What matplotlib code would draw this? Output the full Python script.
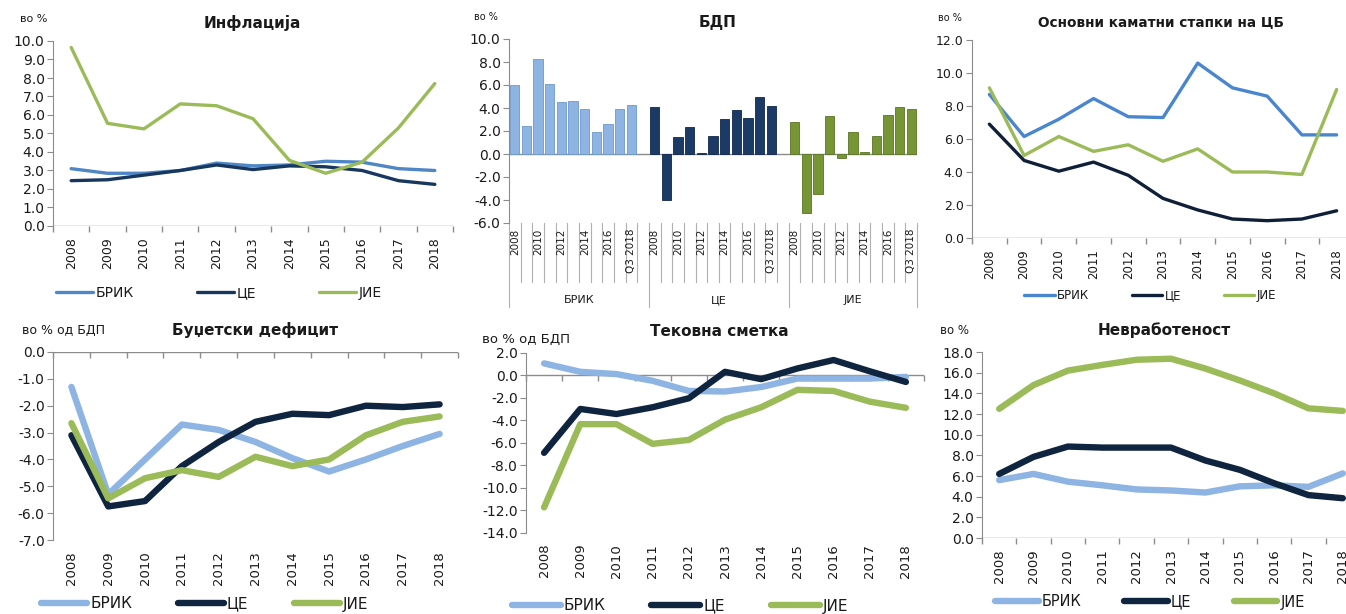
import numpy as np
import matplotlib
matplotlib.use('Agg')
import matplotlib.pyplot as plt

plt.rcParams['font.family'] = ['DejaVu Sans']

W, H = 1346, 614

years = [str(y) for y in range(2008, 2019)]
groups = ['БРИК', 'ЦЕ', 'ЈИЕ']

# Инфлација
infl_brik = [3.1, 2.85, 2.85, 3.0, 3.4, 3.25, 3.3, 3.5, 3.45, 3.1, 3.0]
infl_ce = [2.45, 2.5, 2.75, 3.0, 3.3, 3.05, 3.25, 3.2, 3.0, 2.45, 2.25]
infl_jie = [9.65, 5.55, 5.25, 6.6, 6.5, 5.8, 3.55, 2.85, 3.45, 5.3, 7.7]

# БДП
gdp_labels = ['2008', '', '2010', '', '2012', '', '2014', '', '2016', '', 'Q3 2018']
gdp_brik = [6.0, 2.4, 8.25, 6.05, 4.5, 4.65, 3.9, 1.95, 2.65, 3.9, 4.25]
gdp_ce = [4.05, -4.0, 1.45, 2.35, 0.1, 1.55, 3.05, 3.85, 3.15, 5.0, 4.2]
gdp_jie = [2.75, -5.15, -3.5, 3.3, -0.35, 1.9, 0.2, 1.55, 3.35, 4.05, 3.9]

# Основни каматни стапки
rate_brik = [8.7, 6.15, 7.2, 8.45, 7.35, 7.3, 10.6, 9.1, 8.6, 6.25, 6.25]
rate_ce = [6.9, 4.7, 4.05, 4.6, 3.8, 2.4, 1.7, 1.15, 1.05, 1.15, 1.65]
rate_jie = [9.1, 5.0, 6.15, 5.25, 5.65, 4.65, 5.4, 4.0, 4.0, 3.85, 9.0]

# Буџетски дефицит
bud_brik = [-1.3, -5.3, -4.0, -2.7, -2.9, -3.35, -3.95, -4.45, -4.0, -3.5, -3.05]
bud_ce = [-3.1, -5.75, -5.55, -4.25, -3.35, -2.6, -2.3, -2.35, -2.0, -2.05, -1.95]
bud_jie = [-2.65, -5.45, -4.7, -4.4, -4.65, -3.9, -4.25, -4.0, -3.1, -2.6, -2.4]

# Тековна сметка
ca_brik = [1.05, 0.3, 0.1, -0.5, -1.4, -1.45, -1.05, -0.3, -0.3, -0.3, -0.15]
ca_ce = [-6.9, -3.0, -3.45, -2.85, -2.05, 0.3, -0.35, 0.6, 1.35, 0.35, -0.6]
ca_jie = [-11.75, -4.35, -4.35, -6.1, -5.75, -3.95, -2.85, -1.3, -1.4, -2.35, -2.9]

# Невработеност
un_brik = [5.6, 6.2, 5.45, 5.1, 4.7, 4.6, 4.4, 5.0, 5.1, 4.95, 6.25]
un_ce = [6.2, 7.85, 8.85, 8.75, 8.75, 8.75, 7.5, 6.6, 5.3, 4.15, 3.85]
un_jie = [12.5, 14.8, 16.2, 16.75, 17.25, 17.35, 16.4, 15.25, 14.0, 12.55, 12.3]

GRAY = '#8c8c8c'
TXT = '#1a1a1a'

fig = plt.figure(figsize=(W / 100, H / 100), dpi=100)


def px_axes(l, r, t, b):
    return fig.add_axes([l / W, 1 - b / H, (r - l) / W, (b - t) / H])


def style_axes(ax, ylim, ystep, yfs):
    ax.set_ylim(*ylim)
    ax.set_yticks(np.arange(ylim[0], ylim[1] + ystep / 2, ystep))
    ax.yaxis.set_major_formatter(matplotlib.ticker.FormatStrFormatter('%.1f'))
    for s in ['top', 'right', 'bottom']:
        ax.spines[s].set_visible(False)
    ax.spines['left'].set_color(GRAY)
    ax.tick_params(axis='y', direction='out', length=4, color=GRAY,
                   labelsize=yfs, labelcolor=TXT, pad=2)
    ax.set_facecolor('none')


def line_panel(ax, series, colors, lw, ylim, ystep, yfs, xfs, base=0.0):
    n = len(years)
    x = np.arange(n)
    for vals, c, name in zip(series, colors, groups):
        ax.plot(x, vals, color=c, lw=lw, label=name,
                solid_capstyle='round', solid_joinstyle='round', zorder=3)
    ax.set_xlim(-0.5, n - 0.5)
    style_axes(ax, ylim, ystep, yfs)
    # category axis line and tick marks between categories
    ax.axhline(base, color=GRAY, lw=1.0, zorder=1)
    edges = np.arange(n + 1) - 0.5
    ax.plot(edges, [base] * len(edges), ls='none', marker=3, ms=4,
            mew=1.0, color=GRAY, clip_on=False, zorder=1)
    ax.set_xticks(x)
    ax.set_xticklabels(years, rotation=90, fontsize=xfs, color=TXT)
    ax.tick_params(axis='x', length=0, pad=8)


def panel_legend(ax, y, fs, hl, cs, x=0.5):
    leg = ax.legend(loc='center', bbox_to_anchor=(x, y), ncol=3, frameon=False,
                    fontsize=fs, handlelength=hl, handletextpad=0.2,
                    columnspacing=cs, borderaxespad=0)
    for t in leg.get_texts():
        t.set_color(TXT)


top_cols = ['#4f86c6', '#17375e', '#9bbb59']
bot_cols = ['#8db4e2', '#0f243e', '#9bbb59']

# --- Инфлација
ax1 = px_axes(53, 453, 41, 226)
line_panel(ax1, [infl_brik, infl_ce, infl_jie], top_cols, 2.4,
           (0, 10), 1, 10, 9)
panel_legend(ax1, (226 - 293) / 185, 10, 2.7, 4.5, x=(219 - 53) / 400)
fig.text(252 / W, 1 - 23 / H, 'Инфлација', ha='center', va='center',
         fontsize=11, fontweight='bold', color=TXT)
fig.text(20 / W, 1 - 19 / H, 'во %', ha='left', va='center', fontsize=8, color=TXT)

# --- Основни каматни стапки на ЦБ
ax3 = px_axes(972, 1354, 40, 238)
line_panel(ax3, [rate_brik, rate_ce, rate_jie], ['#4a86d0', '#0f1f38', '#9bbb59'],
           2.4, (0, 12), 2, 9, 8.5)
panel_legend(ax3, (238 - 296) / 198, 8.5, 2.6, 3.6, x=(1150 - 972) / 382)
fig.text(1161 / W, 1 - 22 / H, 'Основни каматни стапки на ЦБ', ha='center',
         va='center', fontsize=9.8, fontweight='bold', color=TXT)
fig.text(938 / W, 1 - 18 / H, 'во %', ha='left', va='center', fontsize=7, color=TXT)

# --- Буџетски дефицит
ax4 = px_axes(53, 458, 352, 540)
line_panel(ax4, [bud_brik, bud_ce, bud_jie], bot_cols, 4.6,
           (-7, 0), 1, 10, 9.5)
panel_legend(ax4, (540 - 604) / 188, 11, 3.0, 3.0, x=(205 - 53) / 405)
fig.text(255 / W, 1 - 330 / H, 'Буџетски дефицит', ha='center', va='center',
         fontsize=11, fontweight='bold', color=TXT)
fig.text(22 / W, 1 - 330 / H, 'во % од БДП', ha='left', va='center', fontsize=9,
         color=TXT)

# --- Тековна сметка
ax5 = px_axes(526, 924, 352.7, 532.7)
line_panel(ax5, [ca_brik, ca_ce, ca_jie], bot_cols, 4.6,
           (-14, 2), 2, 10, 9.5)
panel_legend(ax5, (532.7 - 606) / 180, 11, 3.2, 3.0, x=(680 - 526) / 398)
fig.text(719 / W, 1 - 332 / H, 'Тековна сметка', ha='center', va='center',
         fontsize=11, fontweight='bold', color=TXT)
fig.text(482 / W, 1 - 339 / H, 'во % од БДП', ha='left', va='center', fontsize=9.5,
         color=TXT)

# --- Невработеност
ax6 = px_axes(982, 1360, 352, 538)
line_panel(ax6, [un_brik, un_ce, un_jie], bot_cols, 4.6,
           (0, 18), 2, 10, 9.5)
panel_legend(ax6, (538 - 602) / 186, 10.5, 3.0, 2.9, x=(1150 - 982) / 378)
fig.text(1164 / W, 1 - 330 / H, 'Невработеност', ha='center', va='center',
         fontsize=11, fontweight='bold', color=TXT)
fig.text(940 / W, 1 - 330 / H, 'во %', ha='left', va='center', fontsize=8.5, color=TXT)

# --- БДП (групирани столбови со празно место меѓу групите)
ax2 = px_axes(509, 917, 39, 223)
bar_cols = ['#8db4e2', '#1b3a66', '#769534']
edge_cols = ['#6f98c8', '#10284a', '#5a7526']
n = len(gdp_labels)
nslots = 3 * n + 2
for g, (vals, c, ec) in enumerate(zip([gdp_brik, gdp_ce, gdp_jie], bar_cols, edge_cols)):
    pos = np.arange(n) + g * (n + 1)
    ax2.bar(pos, vals, width=0.8, color=c, edgecolor=ec, lw=0.6, zorder=2)
    for p, lab in zip(pos, gdp_labels):
        if lab:
            ax2.text(p, -0.03, lab, transform=ax2.get_xaxis_transform(),
                     rotation=90, ha='center', va='top', fontsize=7.5, color=TXT)
    ax2.text(g * (n + 1) + (n - 1) / 2 + (0.5 if g < 2 else 0), -0.42, groups[g],
             transform=ax2.get_xaxis_transform(), ha='center', va='center',
             fontsize=8, color=TXT)
ax2.set_xlim(-0.5, nslots - 0.5)
style_axes(ax2, (-6, 10), 2, 10)
ax2.set_xticks([])
ax2.axhline(0, color=GRAY, lw=1.0, zorder=1)
# separators in the category label area
tr = ax2.get_xaxis_transform()
for k in range(nslots + 1):
    xe = k - 0.5
    if k in (0, n + 1, 2 * (n + 1), nslots):
        ax2.plot([xe, xe], [0, -0.457], color='#b0b0b0', lw=0.8, transform=tr,
                 clip_on=False)
    else:
        ax2.plot([xe, xe], [0, -0.32], color='#b0b0b0', lw=0.8, transform=tr,
                 clip_on=False)
fig.text(718 / W, 1 - 23 / H, 'БДП', ha='center', va='center',
         fontsize=11, fontweight='bold', color=TXT)
fig.text(474 / W, 1 - 17 / H, 'во %', ha='left', va='center', fontsize=7, color=TXT)

fig.savefig('out.png', dpi=100)
